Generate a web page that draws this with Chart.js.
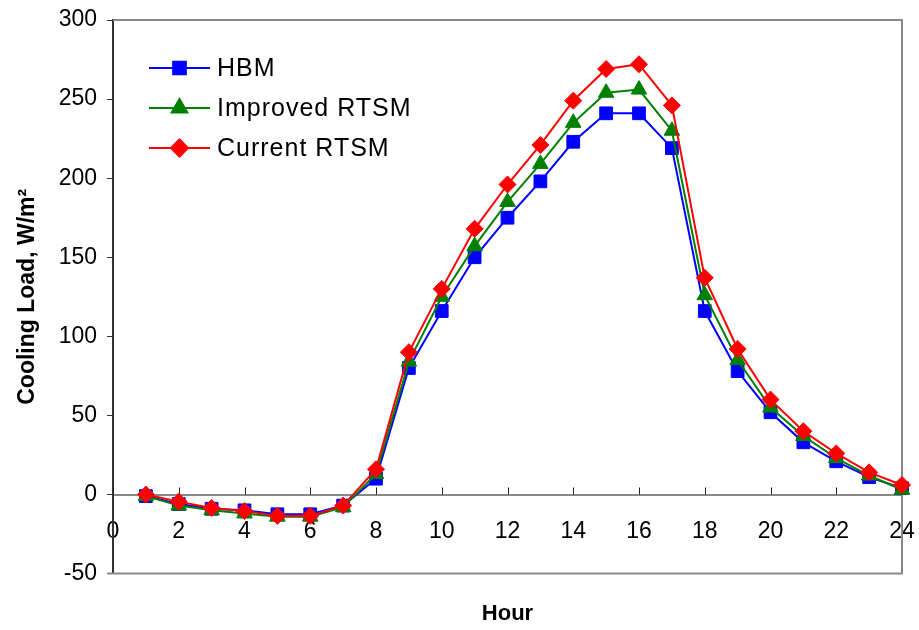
<!DOCTYPE html>
<html>
<head>
<meta charset="utf-8">
<script src="https://cdn.jsdelivr.net/npm/chart.js@4/dist/chart.umd.min.js"></script>
<style>
  body { margin: 0; background: #fff; }
</style>
</head>
<body>
<canvas id="loadChart" width="919" height="630"></canvas>
<script>
const hours = [1, 2, 3, 4, 5, 6, 7, 8, 9, 10, 11, 12, 13, 14, 15, 16, 17, 18, 19, 20, 21, 22, 23, 24];
const hbm = [-1, -6, -9, -10, -12.5, -12.5, -7, 10, 80, 116, 150, 175, 198, 223, 241, 241, 219, 116, 78, 52, 33, 21, 11, 4];
const improvedRtsm = [-1, -7, -10, -12, -14, -14, -8, 13, 84, 125, 157, 185, 209, 235, 254, 256, 230, 126, 85, 55, 37, 23, 12, 3];
const currentRtsm = [0, -4.5, -8.5, -10.5, -13.5, -13.5, -7, 16, 90, 130, 168, 196, 221, 249, 269, 272, 246, 137, 92, 60, 40, 26, 14, 6];
const seriesNames = ['HBM', 'Improved RTSM', 'Current RTSM'];

const FONT = "'Liberation Sans', Arial, sans-serif";

function toPoints(vals) {
  return hours.map((h, i) => ({ x: h, y: vals[i] }));
}

// labels may overhang the plot edges, like the original
function noOverhang(scale) {
  scale.paddingTop = 0;
  scale.paddingBottom = 0;
  scale.paddingLeft = 0;
  scale.paddingRight = 0;
}

// plot frame + x tick marks pointing up from the zero line
const framePlugin = {
  id: 'frame',
  beforeDatasetsDraw(chart) {
    const { ctx, chartArea: a, scales } = chart;
    ctx.save();
    ctx.strokeStyle = '#888';
    ctx.lineWidth = 2;
    ctx.beginPath();
    ctx.moveTo(a.left, a.top);
    ctx.lineTo(a.right, a.top);
    ctx.lineTo(a.right, a.bottom);
    ctx.lineTo(a.left - 6, a.bottom);
    ctx.stroke();

    const y0 = scales.y.getPixelForValue(0);
    ctx.strokeStyle = '#222';
    ctx.lineWidth = 1;
    scales.x.ticks.forEach(t => {
      const x = Math.round(scales.x.getPixelForValue(t.value)) + 0.5;
      ctx.beginPath();
      ctx.moveTo(x, y0 - 7);
      ctx.lineTo(x, y0);
      ctx.stroke();
    });
    ctx.restore();
  }
};

// legend drawn inside the plot, top left
const insideLegend = {
  id: 'insideLegend',
  afterDraw(chart) {
    const { ctx, chartArea: a } = chart;
    ctx.save();
    chart.data.datasets.forEach((ds, i) => {
      const y = a.top + 48 + i * 40;
      const x1 = a.left + 36, x2 = a.left + 97;
      ctx.strokeStyle = ds.borderColor;
      ctx.lineWidth = 2;
      ctx.beginPath();
      ctx.moveTo(x1, y);
      ctx.lineTo(x2, y);
      ctx.stroke();
      ctx.fillStyle = ds.backgroundColor;
      Chart.helpers.drawPoint(ctx, {
        pointStyle: ds.pointStyle,
        radius: ds.pointRadius,
        borderWidth: 1,
        rotation: 0
      }, (x1 + x2) / 2, y);
      ctx.fillStyle = '#000';
      ctx.font = '25px ' + FONT;
      ctx.letterSpacing = '1px';
      ctx.textBaseline = 'middle';
      ctx.fillText(ds.label, a.left + 104, y + 1);
    });
    ctx.restore();
  }
};

new Chart(document.getElementById('loadChart'), {
  type: 'line',
  data: {
    datasets: [
      {
        label: seriesNames[0],
        data: toPoints(hbm),
        borderColor: '#0000ff',
        backgroundColor: '#0000ff',
        pointStyle: 'rect',
        pointRadius: 9,
        order: 2
      },
      {
        label: seriesNames[1],
        data: toPoints(improvedRtsm),
        borderColor: '#008000',
        backgroundColor: '#008000',
        pointStyle: 'triangle',
        pointRadius: 9,
        order: 1
      },
      {
        label: seriesNames[2],
        data: toPoints(currentRtsm),
        borderColor: '#ff0000',
        backgroundColor: '#ff0000',
        pointStyle: 'rectRot',
        pointRadius: 8.5,
        order: 0
      }
    ].map(ds => Object.assign(ds, { borderWidth: 2, pointBorderWidth: 1, tension: 0, clip: false }))
  },
  options: {
    responsive: false,
    animation: false,
    layout: { padding: { top: 20, right: 17, bottom: 0, left: 0 } },
    plugins: {
      legend: { display: false },
      tooltip: { enabled: false },
      title: {
        display: true,
        position: 'bottom',
        fullSize: false,
        text: 'Hour',
        color: '#000',
        font: { family: FONT, size: 22, weight: 'bold' },
        padding: { top: 27, bottom: 3 }
      }
    },
    scales: {
      x: {
        type: 'linear',
        position: { y: 0 },
        min: 0,
        max: 24,
        afterFit: noOverhang,
        ticks: {
          stepSize: 2,
          color: '#000',
          padding: 15,
          font: { family: FONT, size: 23 }
        },
        grid: { display: false },
        border: { display: true, color: '#888', width: 2 }
      },
      y: {
        min: -50,
        max: 300,
        afterFit(scale) {
          scale.width = 113;
          noOverhang(scale);
        },
        ticks: {
          stepSize: 50,
          color: '#000',
          padding: 10,
          font: { family: FONT, size: 23 }
        },
        grid: { drawOnChartArea: false, drawTicks: true, tickLength: 6, color: '#333' },
        border: { display: true, color: '#333', width: 2 },
        title: {
          display: true,
          text: 'Cooling Load, W/m²',
          color: '#000',
          font: { family: FONT, size: 23, weight: 'bold' },
          padding: { top: 14, bottom: 0 }
        }
      }
    }
  },
  plugins: [framePlugin, insideLegend]
});
</script>
</body>
</html>
